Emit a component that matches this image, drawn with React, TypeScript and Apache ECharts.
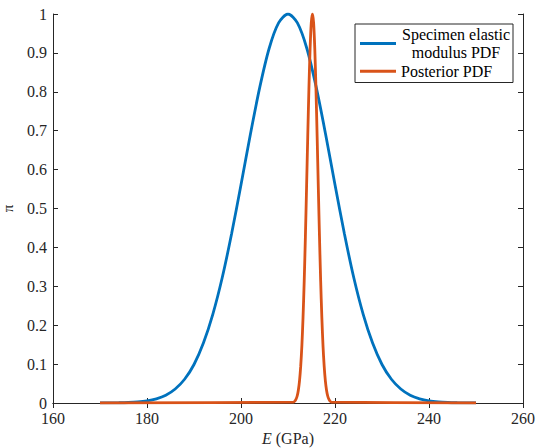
import React, { useEffect, useRef } from "react";
import * as echarts from "echarts";

// Specimen elastic modulus PDF (E in GPa, normalised pi)
const specimenE = [
  170, 172, 174, 176, 178, 180, 182, 184, 186, 188, 190, 192, 194, 196, 198, 200,
  202, 204, 206, 208, 210, 212, 214, 216, 218, 220, 222, 224, 226, 228, 230, 232,
  234, 236, 238, 240, 242, 244, 246, 248, 250,
];
const specimenPi = [
  0.0001, 0.0002, 0.0006, 0.0013, 0.0027, 0.0055, 0.0108, 0.02, 0.036, 0.061, 0.099,
  0.154, 0.228, 0.322, 0.435, 0.561, 0.691, 0.812, 0.912, 0.977, 1.0, 0.977, 0.912,
  0.812, 0.691, 0.561, 0.435, 0.322, 0.228, 0.154, 0.099, 0.061, 0.036, 0.02, 0.0108,
  0.0055, 0.0027, 0.0013, 0.0006, 0.0002, 0.0001,
];

// Posterior PDF
const posteriorE = [
  170, 211.2, 211.45, 211.7, 211.95, 212.2, 212.45, 212.7, 212.95, 213.2, 213.45,
  213.7, 213.95, 214.2, 214.45, 214.7, 214.95, 215.2, 215.45, 215.7, 215.95, 216.2,
  216.45, 216.7, 216.95, 217.2, 217.45, 217.7, 217.95, 218.2, 218.45, 218.7, 218.95,
  219.2, 250,
];
const posteriorPi = [
  0, 0.0024, 0.0049, 0.0097, 0.018, 0.033, 0.057, 0.094, 0.147, 0.22, 0.314, 0.427,
  0.554, 0.685, 0.808, 0.91, 0.977, 1.0, 0.977, 0.91, 0.808, 0.685, 0.554, 0.427,
  0.314, 0.22, 0.147, 0.094, 0.057, 0.033, 0.018, 0.0097, 0.0049, 0.0024, 0,
];

const seriesNames = ["Specimen elastic\nmodulus PDF", "Posterior PDF"];
const xTicks = { min: 160, max: 260, interval: 20 };
const yTicks = { min: 0, max: 1, interval: 0.1 };

const FONT = "Liberation Serif";
const INK = "#262626";

export default function App() {
  const ref = useRef<HTMLDivElement>(null);
  useEffect(() => {
    if (!ref.current) return;
    const chart = echarts.init(ref.current, undefined, { renderer: "svg" });
    const axisLine = { show: true, lineStyle: { color: INK, width: 1 } };
    const tick = { show: true, inside: true, length: 5, lineStyle: { color: INK, width: 1 } };
    chart.setOption({
      animation: false,
      backgroundColor: "#ffffff",
      grid: {
        left: 53,
        right: 14,
        top: 14,
        bottom: 45,
        containLabel: false,
        outerBoundsMode: "none",
      },
      legend: {
        left: 355,
        top: 24,
        orient: "vertical",
        backgroundColor: "#ffffff",
        borderColor: INK,
        borderWidth: 1,
        padding: [1, 2, 2, 5],
        itemGap: 0,
        itemWidth: 36,
        itemHeight: 3,
        icon: "rect",
        data: seriesNames.map((n) => ({ name: n })),
        formatter: (name: string) =>
          name.indexOf("\n") >= 0
            ? name
                .split("\n")
                .map((s) => "{c|" + s + "}")
                .join("\n")
            : "{l|" + name + "}",
        textStyle: {
          fontFamily: FONT,
          fontSize: 16,
          color: "#000",
          lineHeight: 18.5,
          rich: {
            c: { fontFamily: FONT, fontSize: 16, width: 110, align: "center", lineHeight: 18.5, color: "#000" },
            l: { fontFamily: FONT, fontSize: 16, lineHeight: 18.5, color: "#000" },
          },
        },
      },
      xAxis: [
        {
          type: "value",
          ...xTicks,
          position: "bottom",
          axisLine,
          axisTick: tick,
          splitLine: { show: false },
          axisLabel: { fontFamily: FONT, fontSize: 16, color: INK, margin: 7 },
          name: "{i|E} (GPa)",
          nameLocation: "middle",
          nameGap: 26,
          nameTextStyle: {
            fontFamily: FONT,
            fontSize: 16,
            color: INK,
            rich: { i: { fontFamily: FONT, fontSize: 16, fontStyle: "italic", color: INK } },
          },
        },
        {
          type: "value",
          ...xTicks,
          position: "top",
          axisLine,
          axisTick: tick,
          splitLine: { show: false },
          axisLabel: { show: false },
        },
      ],
      yAxis: [
        {
          type: "value",
          ...yTicks,
          position: "left",
          axisLine,
          axisTick: tick,
          splitLine: { show: false },
          axisLabel: { fontFamily: FONT, fontSize: 16, color: INK, margin: 6 },
          name: "π",
          nameLocation: "middle",
          nameRotate: 90,
          nameGap: 38,
          nameTextStyle: { fontFamily: FONT, fontSize: 15, color: INK },
        },
        {
          type: "value",
          ...yTicks,
          position: "right",
          axisLine,
          axisTick: tick,
          splitLine: { show: false },
          axisLabel: { show: false },
        },
      ],
      series: [
        {
          name: seriesNames[0],
          type: "line",
          data: specimenE.map((e, i) => [e, specimenPi[i]]),
          smooth: 0.3,
          showSymbol: false,
          lineStyle: { color: "#0072BD", width: 2.8 },
          itemStyle: { color: "#0072BD" },
          z: 3,
        },
        {
          name: seriesNames[1],
          type: "line",
          data: posteriorE.map((e, i) => [e, posteriorPi[i]]),
          smooth: 0.3,
          showSymbol: false,
          lineStyle: { color: "#D95319", width: 2.8 },
          itemStyle: { color: "#D95319" },
          z: 4,
        },
      ],
    });
    return () => chart.dispose();
  }, []);
  return (
    <div
      ref={ref}
      style={{ position: "fixed", left: 0, top: 0, width: 537, height: 448, background: "#fff" }}
    />
  );
}
